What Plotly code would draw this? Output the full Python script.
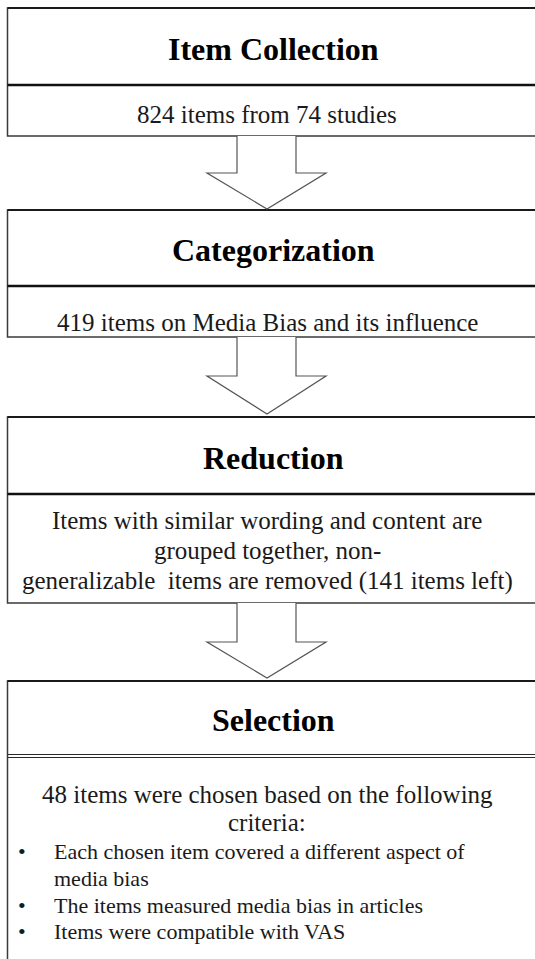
import plotly.graph_objects as go

# ---- content ----
step_titles = ["Item Collection", "Categorization", "Reduction", "Selection"]
step_lines = [
    ["824 items from 74 studies"],
    ["419 items on Media Bias and its influence"],
    ["Items with similar wording and content are",
     "grouped together, non-",
     "generalizable  items are removed (141 items left)"],
    ["48 items were chosen based on the following",
     "criteria:"],
]
selection_bullets = [
    ["Each chosen item covered a different aspect of", "media bias"],
    ["The items measured media bias in articles"],
    ["Items were compatible with VAS"],
]

# ---- layout geometry (page pixels, y downward) ----
W, H = 535, 959
BOX_L, BOX_R = 7.5, 545
CX = 267
boxes = [  # top, divider, bottom
    (8, 85, 136),
    (210, 286, 337),
    (417, 494, 603),
    (681, 756, 975),
]
title_base = [59, 260, 468, 730]
body_base = [[122], [330], [528, 558, 588], [802, 830]]
bullet_base = [[858, 885], [912], [938]]
arrows = [(136, 173, 209), (337, 376, 414), (603, 642, 678)]

TITLE_FS = 32
BODY_FS = 25
BULLET_FS = 22
FONT = "Liberation Serif"

fig = go.Figure()
fig.add_trace(go.Scatter(x=[0, W], y=[0, H], mode="markers",
                         marker=dict(opacity=0), hoverinfo="skip", showlegend=False))

shapes = []
ann = []

def yc(base, fs):
    return base - 0.30 * fs

for i, (top, div, bot) in enumerate(boxes):
    shapes.append(dict(type="rect", x0=BOX_L, x1=BOX_R, y0=top, y1=bot,
                       line=dict(color="#3a3a3a", width=1.5), fillcolor="white", layer="below"))
    shapes.append(dict(type="line", x0=BOX_L, x1=BOX_R, y0=top, y1=top,
                       line=dict(color="#1a1a1a", width=2)))
    if i == 3:
        for dy in (-1.5, 1.5):
            shapes.append(dict(type="line", x0=BOX_L, x1=BOX_R, y0=div + dy, y1=div + dy,
                               line=dict(color="#2a2a2a", width=1.2)))
    else:
        shapes.append(dict(type="line", x0=BOX_L, x1=BOX_R, y0=div, y1=div,
                           line=dict(color="#111111", width=2.5)))
    ann.append(dict(x=CX + 6, y=yc(title_base[i], TITLE_FS), text="<b>%s</b>" % step_titles[i],
                    showarrow=False, xanchor="center", yanchor="middle",
                    font=dict(family=FONT, size=TITLE_FS, color="#000")))
    for line, b in zip(step_lines[i], body_base[i]):
        ann.append(dict(x=CX, y=yc(b, BODY_FS), text=line, showarrow=False,
                        xanchor="center", yanchor="middle",
                        font=dict(family=FONT, size=BODY_FS, color="#1a1a1a")))

for lines, bases in zip(selection_bullets, bullet_base):
    ann.append(dict(x=22, y=yc(bases[0], BULLET_FS), text="•", showarrow=False,
                    xanchor="center", yanchor="middle",
                    font=dict(family=FONT, size=BULLET_FS, color="#1a1a1a")))
    for line, b in zip(lines, bases):
        ann.append(dict(x=52, y=yc(b, BULLET_FS), text=line, showarrow=False,
                        xanchor="left", yanchor="middle",
                        font=dict(family=FONT, size=BULLET_FS, color="#1a1a1a")))

SL, SR, HL, HR = 237, 296, 207, 326
for top, sh, tip in arrows:
    path = (f"M {SL},{top} L {SL},{sh} L {HL},{sh} L {CX},{tip} "
            f"L {HR},{sh} L {SR},{sh} L {SR},{top}")
    shapes.append(dict(type="path", path=path, line=dict(color="#555555", width=1.2),
                       fillcolor="white"))

fig.update_layout(
    width=W, height=H, margin=dict(l=0, r=0, t=0, b=0),
    paper_bgcolor="white", plot_bgcolor="white",
    xaxis=dict(range=[0, W], visible=False, fixedrange=True),
    yaxis=dict(range=[H, 0], visible=False, fixedrange=True),
    shapes=shapes, annotations=ann, showlegend=False, hovermode=False,
)
fig.write_html("out.html",
               config={"displayModeBar": False, "staticPlot": True},
               post_script="document.body.style.margin='0';document.body.style.overflow='hidden';")
